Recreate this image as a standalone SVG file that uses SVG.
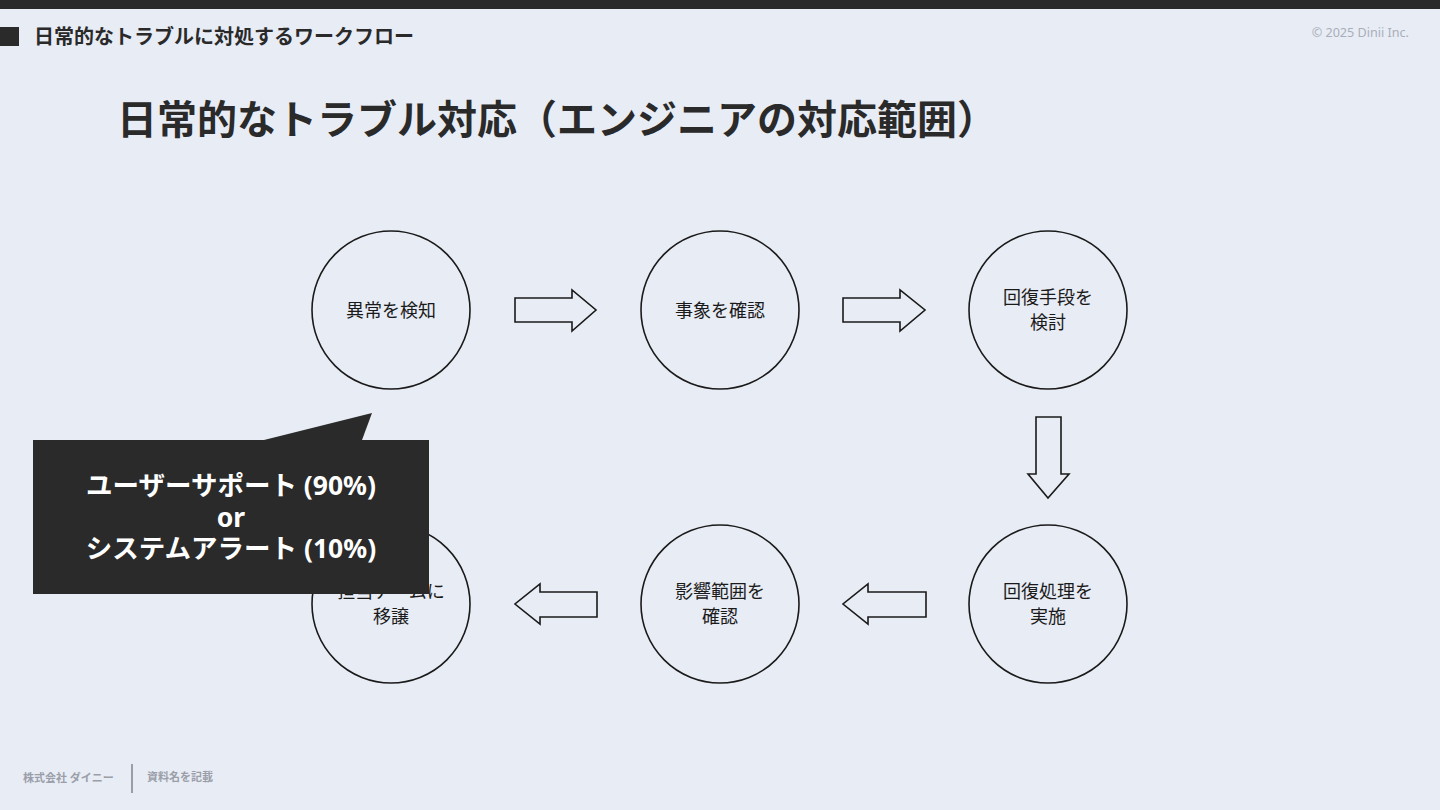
<svg xmlns="http://www.w3.org/2000/svg" width="1440" height="810" viewBox="0 0 1440 810">
<style>
text{font-family:"Noto Sans","Noto Sans CJK JP",sans-serif}
.node circle{fill:none;stroke:#1a1a1a;stroke-width:1.6}
.node text{font-size:18px;fill:#1a1a1a;text-anchor:middle}
.arrow{fill:none;stroke:#1a1a1a;stroke-width:1.6;stroke-linejoin:miter}
.foot{font-size:11px;fill:#9a9ea8;font-weight:bold}
.call{font-size:26.5px;fill:#ffffff;font-weight:bold;text-anchor:middle}
</style>
<rect width="1440" height="810" fill="#e8ecf5"/>
<rect width="1440" height="9" fill="#2a2a2a"/>
<rect x="0" y="27" width="19" height="19" fill="#2a2a2a"/>
<text x="34" y="44" font-size="20" font-weight="bold" fill="#2a2a2a">日常的なトラブルに対処するワークフロー</text>
<text x="1409" y="37" font-size="12.6" fill="#a9aeb9" text-anchor="end">© 2025 Dinii Inc.</text>
<text x="117" y="134" font-size="40" font-weight="bold" fill="#2a2a2a">日常的なトラブル対応（エンジニアの対応範囲）</text>

<g id="connectors">
<polygon class="arrow" points="515,298 572,298 572,290 596,310 572,331 572,322 515,322"/>
<polygon class="arrow" points="843,298 900,298 900,290 925,310 900,331 900,322 843,322"/>
<polygon class="arrow" points="1036,417 1061,417 1061,474 1069,474 1048,498 1028,474 1036,474"/>
<polygon class="arrow" points="926,592 868,592 868,584 843,604 868,624 868,617 926,617"/>
<polygon class="arrow" points="597,592 540,592 540,584 515,604 540,624 540,617 597,617"/>
</g>

<g id="n1" class="node"><circle cx="391" cy="310" r="79"/><text x="391" y="316.5">異常を検知</text></g>
<g id="n2" class="node"><circle cx="720" cy="310" r="79"/><text x="720" y="316.5">事象を確認</text></g>
<g id="n3" class="node"><circle cx="1048" cy="310" r="79"/><text x="1048" y="304">回復手段を</text><text x="1048" y="329">検討</text></g>
<g id="n4" class="node"><circle cx="1048" cy="604" r="79"/><text x="1048" y="598">回復処理を</text><text x="1048" y="623">実施</text></g>
<g id="n5" class="node"><circle cx="720" cy="604" r="79"/><text x="720" y="598">影響範囲を</text><text x="720" y="623">確認</text></g>
<g id="n6" class="node"><circle cx="391" cy="604" r="79"/><text x="391" y="598">担当チームに</text><text x="391" y="623">移譲</text></g>

<g id="callout">
<polygon points="264,440 372,413 362,440" fill="#2a2a2a"/>
<rect x="33" y="440" width="396" height="154" fill="#2a2a2a"/>
<text class="call" x="231" y="495">ユーザーサポート (90%)</text>
<text class="call" x="231" y="527">or</text>
<text class="call" x="231" y="558">システムアラート (10%)</text>
</g>

<text class="foot" x="23" y="782">株式会社 ダイニー</text>
<rect x="131" y="764" width="2" height="29" fill="#9a9ea8"/>
<text class="foot" x="147" y="781">資料名を記載</text>
</svg>
